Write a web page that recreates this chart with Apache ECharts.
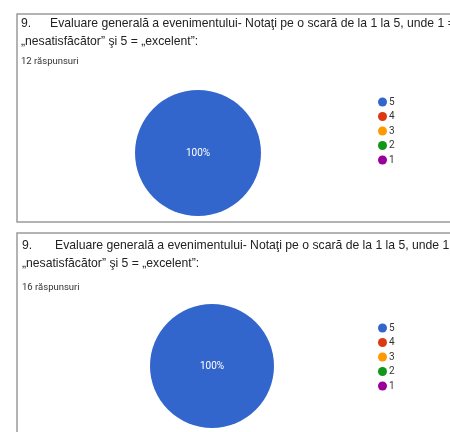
<!DOCTYPE html>
<html>
<head>
<meta charset="utf-8">
<script src="https://cdn.jsdelivr.net/npm/echarts@6/dist/echarts.min.js"></script>
<style>html,body{margin:0;padding:0;background:#fff;}#c{width:450px;height:432px;}</style>
</head>
<body>
<div id="c"></div>
<script>
const categories = ['5', '4', '3', '2', '1'];
const responses1 = [12, 0, 0, 0, 0];
const responses2 = [16, 0, 0, 0, 0];
const colors = ['#3366cc', '#dc3912', '#ff9900', '#109618', '#990099'];
const questionNo = '9.';
const questionLine1 = 'Evaluare generală a evenimentului- Notaţi pe o scară de la 1 la 5, unde 1 =';
const questionLine2 = '„nesatisfăcător” şi 5 = „excelent”:';
const count1 = '12 răspunsuri';
const count2 = '16 răspunsuri';

const FONT = 'Roboto, Arial, sans-serif';
const TFONT = '"Liberation Sans", Arial, sans-serif';
function mkData(vals) {
  return categories.map((c, i) => ({
    name: c, value: vals[i],
    itemStyle: { color: colors[i] },
    label: { show: vals[i] > 0 }
  }));
}
function texts(x0, x1, y0, y1, y2, count) {
  return [
    { type: 'text', left: x0, top: y0, style: { text: questionNo, font: '12.2px ' + TFONT, fill: '#222' } },
    { type: 'text', left: x1, top: y0, style: { text: questionLine1, font: '12.2px ' + TFONT, fill: '#222' } },
    { type: 'text', left: x0, top: y1, style: { text: questionLine2, font: '12.2px ' + TFONT, fill: '#222' } },
    { type: 'text', left: x0, top: y2, style: { text: count, font: '9.5px ' + FONT, fill: '#333' } }
  ];
}
const chart = echarts.init(document.getElementById('c'));
const legendBase = {
  orient: 'vertical', icon: 'circle', itemWidth: 9, itemHeight: 9, itemGap: 4.5,
  selectedMode: false, textStyle: { fontSize: 10, color: '#333', fontFamily: FONT, padding: [0, 0, 0, -3] }
};
const seriesBase = {
  type: 'pie', silent: true, startAngle: 90, avoidLabelOverlap: false,
  label: { position: 'center', formatter: '{d}%', color: '#fff', fontSize: 10, fontFamily: FONT },
  labelLine: { show: false }, emphasis: { disabled: true }
};
chart.setOption({
  animation: false,
  color: colors,
  graphic: [
    { type: 'rect', shape: { x: 17, y: 14, width: 460, height: 208 }, style: { fill: 'none', stroke: '#9a9a9a', lineWidth: 1.5 } },
    { type: 'rect', shape: { x: 17, y: 233, width: 460, height: 260 }, style: { fill: 'none', stroke: '#9a9a9a', lineWidth: 1.5 } },
    ...texts(21, 50, 18, 36, 57, count1),
    ...texts(22, 55, 240, 258, 283, count2)
  ],
  legend: [
    Object.assign({ left: 373, top: 92, data: categories }, legendBase),
    Object.assign({ left: 373, top: 318, data: categories }, legendBase)
  ],
  series: [
    Object.assign({ center: [198, 153], radius: 63, data: mkData(responses1) }, seriesBase),
    Object.assign({ center: [212, 366], radius: 62, data: mkData(responses2) }, seriesBase)
  ]
});
</script>
</body>
</html>
